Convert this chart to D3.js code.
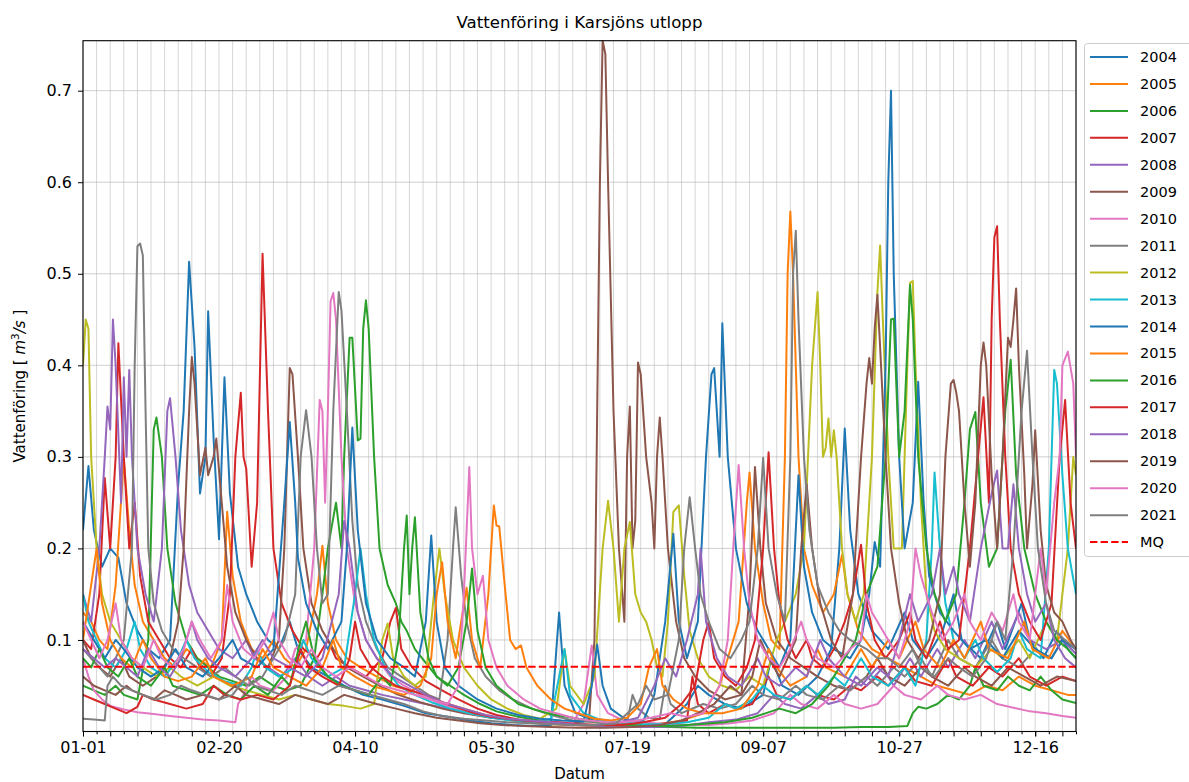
<!DOCTYPE html>
<html><head><meta charset="utf-8">
<script src="https://cdn.jsdelivr.net/npm/d3@7"></script>
<style>body{margin:0;background:#fff}svg{font-family:"DejaVu Sans",sans-serif}</style>
</head><body><svg id="c" width="1189" height="782"></svg>
<script>
const years = [2004,2005,2006,2007,2008,2009,2010,2011,2012,2013,2014,2015,2016,2017,2018,2019,2020,2021];
const mq = 0.0708;
const xTickDays = [0,50,100,150,200,250,300,350];
const xTickLabels = ["01-01","02-20","04-10","05-30","07-19","09-07","10-27","12-16"];
const yTicks = [0.1,0.2,0.3,0.4,0.5,0.6,0.7];

// [day of year, discharge m3/s]
const q2004 = [[0,0.22],[2,0.29],[4,0.22],[7,0.18],[10,0.2],[13,0.19],[16,0.14],[20,0.11],[24,0.09],[28,0.08],[32,0.1],[35,0.27],[37,0.35],[39,0.513],[41,0.42],[43,0.26],[45,0.3],[46,0.459],[48,0.32],[50,0.21],[52,0.387],[54,0.26],[57,0.18],[60,0.15],[64,0.12],[68,0.1],[72,0.09],[76,0.12],[79,0.09],[84,0.07],[90,0.06],[96,0.05],[103,0.04],[110,0.035],[118,0.028],[126,0.02],[134,0.016],[142,0.012],[150,0.009],[158,0.007],[165,0.006],[172,0.007],[174,0.09],[175,0.13],[177,0.05],[181,0.02],[188,0.012],[196,0.008],[205,0.006],[214,0.008],[222,0.03],[226,0.05],[230,0.04],[236,0.03],[242,0.025],[250,0.04],[253,0.08],[257,0.05],[263,0.04],[270,0.06],[275,0.09],[278,0.2],[280,0.331],[282,0.22],[285,0.15],[290,0.11],[296,0.09],[302,0.13],[305,0.1],[310,0.08],[316,0.11],[320,0.15],[323,0.1],[330,0.08],[336,0.12],[339,0.09],[345,0.14],[348,0.1],[353,0.08],[358,0.11],[362,0.09],[365,0.08]];
const q2005 = [[0,0.13],[3,0.12],[6,0.1],[9,0.09],[12,0.16],[15,0.298],[17,0.22],[19,0.16],[22,0.12],[26,0.1],[30,0.08],[34,0.07],[38,0.09],[42,0.08],[47,0.07],[51,0.1],[53,0.24],[55,0.17],[58,0.12],[62,0.09],[66,0.08],[70,0.1],[74,0.08],[78,0.07],[82,0.09],[86,0.15],[88,0.203],[90,0.14],[93,0.1],[97,0.08],[102,0.07],[108,0.06],[114,0.05],[120,0.045],[126,0.04],[132,0.032],[140,0.025],[148,0.018],[156,0.013],[164,0.01],[172,0.008],[180,0.007],[188,0.006],[196,0.005],[204,0.006],[212,0.008],[220,0.012],[228,0.02],[234,0.05],[238,0.09],[241,0.12],[244,0.25],[245,0.283],[247,0.2],[250,0.14],[253,0.1],[256,0.09],[258,0.3],[259,0.5],[260,0.568],[261,0.5],[263,0.3],[265,0.2],[268,0.16],[272,0.13],[276,0.15],[279,0.193],[281,0.15],[285,0.11],[290,0.09],[296,0.08],[302,0.07],[308,0.06],[314,0.05],[320,0.045],[326,0.04],[332,0.05],[338,0.045],[344,0.06],[350,0.05],[356,0.045],[362,0.04],[365,0.04]];
const q2006 = [[0,0.05],[4,0.045],[8,0.04],[12,0.05],[15,0.04],[20,0.035],[24,0.1],[26,0.33],[27,0.343],[29,0.3],[31,0.2],[34,0.14],[38,0.1],[42,0.08],[46,0.07],[50,0.06],[55,0.055],[60,0.05],[65,0.06],[70,0.05],[75,0.045],[80,0.05],[85,0.08],[88,0.15],[90,0.2],[93,0.25],[95,0.2],[96,0.3],[98,0.43],[99,0.43],[101,0.318],[102,0.32],[103,0.44],[104,0.471],[105,0.44],[107,0.3],[109,0.2],[112,0.16],[115,0.14],[117,0.12],[119,0.11],[122,0.09],[126,0.075],[130,0.06],[135,0.05],[140,0.04],[146,0.03],[152,0.022],[160,0.016],[168,0.012],[176,0.009],[186,0.007],[196,0.006],[206,0.005],[216,0.005],[226,0.004],[236,0.004],[246,0.004],[256,0.004],[266,0.004],[276,0.004],[286,0.005],[296,0.005],[303,0.006],[305,0.02],[307,0.027],[310,0.025],[314,0.03],[318,0.04],[322,0.035],[326,0.05],[328,0.07],[331,0.05],[336,0.045],[340,0.06],[344,0.05],[348,0.045],[352,0.06],[356,0.045],[360,0.035],[365,0.031]];
const q2007 = [[0,0.1],[3,0.09],[6,0.15],[8,0.277],[10,0.2],[12,0.3],[13,0.424],[15,0.3],[17,0.2],[19,0.25],[21,0.17],[24,0.12],[28,0.1],[32,0.08],[36,0.07],[40,0.09],[43,0.07],[47,0.06],[51,0.08],[54,0.15],[56,0.3],[58,0.37],[59,0.3],[60,0.287],[62,0.18],[64,0.25],[66,0.522],[68,0.35],[70,0.2],[73,0.14],[77,0.11],[81,0.09],[86,0.08],[90,0.1],[93,0.08],[98,0.07],[104,0.06],[110,0.08],[113,0.12],[115,0.135],[117,0.09],[121,0.07],[126,0.055],[132,0.045],[138,0.035],[145,0.025],[152,0.018],[160,0.013],[170,0.01],[180,0.008],[190,0.007],[200,0.006],[210,0.008],[218,0.01],[222,0.012],[224,0.06],[226,0.03],[230,0.02],[236,0.03],[240,0.025],[246,0.03],[252,0.06],[255,0.04],[260,0.035],[266,0.05],[270,0.04],[276,0.035],[282,0.05],[286,0.045],[292,0.06],[296,0.05],[302,0.07],[306,0.055],[312,0.05],[318,0.08],[321,0.06],[327,0.05],[333,0.07],[338,0.06],[344,0.08],[348,0.06],[354,0.05],[360,0.06],[365,0.055]];
const q2008 = [[0,0.15],[3,0.12],[6,0.2],[8,0.3],[9,0.355],[10,0.33],[11,0.45],[12,0.4],[14,0.25],[15,0.387],[16,0.3],[17,0.395],[18,0.3],[20,0.2],[23,0.15],[26,0.12],[29,0.2],[31,0.35],[32,0.364],[34,0.3],[36,0.22],[39,0.16],[42,0.13],[46,0.11],[50,0.09],[55,0.08],[60,0.1],[63,0.08],[68,0.07],[73,0.06],[78,0.08],[83,0.06],[88,0.05],[93,0.06],[98,0.05],[104,0.045],[110,0.04],[118,0.035],[126,0.03],[134,0.025],[142,0.02],[150,0.016],[160,0.012],[170,0.009],[180,0.007],[190,0.006],[200,0.005],[210,0.005],[220,0.006],[230,0.01],[240,0.013],[248,0.02],[254,0.04],[258,0.03],[264,0.025],[270,0.04],[274,0.03],[280,0.035],[284,0.06],[288,0.05],[294,0.07],[298,0.05],[304,0.08],[308,0.06],[314,0.09],[318,0.07],[324,0.1],[328,0.08],[334,0.12],[338,0.09],[344,0.13],[348,0.1],[354,0.09],[360,0.1],[365,0.085]];
const q2009 = [[0,0.1],[3,0.08],[6,0.07],[10,0.06],[14,0.08],[17,0.06],[22,0.05],[27,0.06],[32,0.08],[35,0.12],[37,0.2],[39,0.35],[40,0.409],[41,0.38],[43,0.28],[45,0.31],[46,0.28],[48,0.3],[49,0.32],[51,0.25],[53,0.18],[56,0.13],[60,0.1],[64,0.08],[68,0.07],[72,0.1],[74,0.2],[75,0.3],[76,0.397],[77,0.39],[79,0.3],[81,0.2],[84,0.14],[88,0.11],[92,0.09],[97,0.07],[103,0.06],[109,0.05],[116,0.04],[124,0.032],[132,0.025],[140,0.02],[150,0.015],[160,0.012],[170,0.01],[180,0.009],[186,0.012],[188,0.1],[190,0.6],[191,0.755],[192,0.74],[193,0.6],[195,0.35],[197,0.2],[199,0.12],[200,0.3],[201,0.355],[202,0.2],[203,0.23],[204,0.403],[205,0.39],[207,0.3],[209,0.25],[210,0.2],[211,0.3],[212,0.343],[213,0.3],[215,0.2],[218,0.12],[221,0.08],[225,0.06],[230,0.045],[236,0.035],[242,0.04],[245,0.15],[247,0.289],[249,0.2],[251,0.14],[255,0.1],[260,0.08],[265,0.07],[270,0.06],[276,0.05],[282,0.045],[288,0.06],[292,0.08],[296,0.06],[302,0.05],[308,0.07],[312,0.06],[318,0.05],[324,0.07],[328,0.06],[334,0.05],[340,0.07],[346,0.06],[352,0.05],[358,0.06],[365,0.055]];
const q2010 = [[0,0.08],[2,0.06],[4,0.045],[7,0.035],[10,0.028],[15,0.024],[20,0.021],[26,0.019],[32,0.017],[38,0.015],[44,0.013],[50,0.012],[56,0.01],[57,0.03],[59,0.04],[62,0.06],[65,0.05],[70,0.045],[75,0.06],[78,0.09],[82,0.1],[85,0.2],[87,0.362],[88,0.35],[89,0.25],[90,0.35],[91,0.47],[92,0.479],[93,0.45],[95,0.3],[97,0.2],[100,0.14],[104,0.1],[108,0.08],[113,0.06],[118,0.05],[124,0.04],[130,0.032],[136,0.026],[142,0.02],[150,0.016],[158,0.013],[166,0.011],[174,0.01],[180,0.009],[184,0.03],[187,0.094],[189,0.04],[193,0.02],[198,0.013],[206,0.01],[214,0.008],[222,0.007],[230,0.007],[238,0.009],[246,0.012],[254,0.02],[260,0.04],[264,0.03],[270,0.025],[276,0.04],[280,0.03],[286,0.025],[292,0.03],[298,0.05],[302,0.04],[308,0.035],[314,0.05],[318,0.04],[324,0.035],[330,0.04],[336,0.03],[342,0.026],[348,0.022],[354,0.02],[360,0.017],[365,0.015]];
const q2011 = [[0,0.09],[3,0.08],[6,0.07],[9,0.06],[12,0.08],[15,0.1],[18,0.2],[19,0.4],[20,0.53],[21,0.533],[22,0.52],[23,0.35],[24,0.2],[26,0.14],[29,0.11],[33,0.09],[37,0.08],[42,0.07],[47,0.06],[52,0.07],[56,0.06],[61,0.05],[66,0.06],[70,0.08],[74,0.1],[78,0.15],[80,0.3],[82,0.351],[84,0.3],[86,0.2],[88,0.14],[90,0.15],[92,0.35],[94,0.48],[95,0.46],[97,0.35],[99,0.23],[101,0.16],[104,0.12],[108,0.09],[112,0.07],[117,0.06],[122,0.05],[127,0.04],[131,0.035],[134,0.1],[136,0.2],[137,0.245],[139,0.17],[141,0.12],[144,0.08],[148,0.06],[153,0.045],[158,0.035],[165,0.025],[172,0.018],[180,0.012],[188,0.01],[196,0.008],[200,0.01],[202,0.04],[204,0.025],[208,0.015],[212,0.014],[214,0.05],[216,0.03],[220,0.02],[228,0.03],[234,0.025],[240,0.03],[246,0.05],[250,0.04],[256,0.035],[262,0.05],[266,0.04],[272,0.035],[278,0.05],[282,0.045],[288,0.06],[292,0.05],[298,0.07],[302,0.06],[308,0.08],[312,0.06],[318,0.1],[322,0.08],[328,0.07],[334,0.1],[338,0.08],[344,0.07],[350,0.09],[356,0.08],[360,0.1],[365,0.09]];
const q2012 = [[0,0.4],[1,0.45],[2,0.44],[3,0.3],[5,0.2],[7,0.15],[10,0.12],[14,0.1],[18,0.08],[22,0.07],[27,0.06],[32,0.07],[36,0.06],[42,0.05],[48,0.06],[54,0.05],[60,0.045],[66,0.04],[72,0.035],[78,0.04],[84,0.035],[90,0.03],[96,0.028],[102,0.025],[107,0.03],[110,0.1],[112,0.118],[114,0.08],[118,0.06],[122,0.05],[126,0.06],[129,0.15],[131,0.2],[133,0.15],[136,0.1],[140,0.07],[145,0.05],[150,0.035],[156,0.025],[162,0.018],[168,0.014],[174,0.025],[177,0.09],[179,0.05],[184,0.03],[188,0.06],[191,0.2],[193,0.252],[195,0.2],[197,0.12],[199,0.2],[201,0.229],[203,0.15],[205,0.13],[207,0.12],[209,0.1],[211,0.07],[213,0.06],[215,0.12],[217,0.24],[219,0.247],[221,0.17],[223,0.11],[226,0.08],[230,0.06],[235,0.05],[240,0.045],[245,0.06],[250,0.05],[255,0.1],[258,0.12],[262,0.15],[265,0.2],[268,0.4],[270,0.48],[271,0.4],[272,0.3],[273,0.31],[274,0.342],[275,0.3],[276,0.329],[277,0.3],[279,0.2],[281,0.15],[284,0.12],[287,0.15],[290,0.3],[292,0.48],[293,0.531],[294,0.45],[296,0.3],[298,0.2],[301,0.2],[303,0.4],[304,0.49],[305,0.492],[306,0.4],[308,0.25],[310,0.15],[313,0.11],[317,0.09],[322,0.08],[328,0.07],[334,0.09],[338,0.08],[344,0.1],[348,0.08],[354,0.12],[358,0.1],[362,0.2],[364,0.3],[365,0.28]];
const q2013 = [[0,0.15],[2,0.12],[5,0.1],[8,0.08],[12,0.07],[16,0.09],[19,0.12],[21,0.09],[25,0.07],[30,0.06],[35,0.08],[38,0.1],[41,0.08],[46,0.065],[52,0.055],[58,0.05],[62,0.07],[64,0.09],[67,0.07],[72,0.06],[78,0.07],[81,0.1],[84,0.08],[90,0.06],[96,0.07],[100,0.15],[102,0.2],[104,0.15],[107,0.1],[111,0.07],[116,0.05],[122,0.04],[128,0.032],[135,0.025],[142,0.02],[150,0.015],[158,0.012],[166,0.01],[172,0.014],[175,0.06],[177,0.09],[179,0.04],[184,0.02],[190,0.013],[198,0.01],[206,0.008],[214,0.008],[222,0.01],[230,0.015],[236,0.03],[240,0.025],[246,0.035],[250,0.05],[254,0.04],[260,0.035],[266,0.05],[270,0.04],[276,0.06],[280,0.05],[286,0.08],[290,0.06],[296,0.05],[302,0.07],[306,0.05],[310,0.1],[312,0.2],[313,0.283],[315,0.2],[317,0.14],[320,0.1],[324,0.08],[328,0.1],[331,0.08],[336,0.065],[341,0.08],[344,0.11],[347,0.09],[352,0.08],[355,0.2],[357,0.395],[358,0.38],[360,0.28],[362,0.2],[365,0.15]];
const q2014 = [[0,0.12],[4,0.1],[8,0.08],[12,0.1],[15,0.09],[20,0.07],[25,0.06],[30,0.07],[34,0.09],[38,0.07],[44,0.06],[50,0.08],[55,0.1],[58,0.08],[64,0.07],[70,0.09],[74,0.25],[76,0.338],[78,0.25],[79,0.19],[82,0.14],[86,0.11],[90,0.09],[95,0.12],[97,0.2],[99,0.332],[101,0.22],[104,0.14],[108,0.1],[113,0.08],[118,0.07],[122,0.06],[126,0.12],[128,0.214],[130,0.12],[133,0.07],[138,0.05],[145,0.035],[152,0.025],[160,0.018],[168,0.014],[176,0.012],[184,0.011],[187,0.05],[189,0.095],[191,0.05],[194,0.025],[200,0.012],[206,0.012],[210,0.04],[214,0.12],[217,0.216],[219,0.12],[222,0.08],[226,0.12],[229,0.3],[231,0.39],[232,0.397],[234,0.3],[235,0.446],[237,0.3],[240,0.2],[244,0.14],[248,0.11],[252,0.09],[256,0.07],[260,0.1],[263,0.28],[265,0.18],[268,0.13],[272,0.1],[276,0.09],[282,0.08],[286,0.1],[289,0.15],[291,0.207],[293,0.18],[295,0.4],[296,0.6],[297,0.70],[298,0.5],[300,0.3],[302,0.2],[305,0.25],[307,0.382],[309,0.25],[311,0.17],[315,0.13],[320,0.11],[326,0.09],[332,0.1],[338,0.08],[344,0.11],[350,0.09],[356,0.08],[360,0.1],[365,0.09]];
const q2015 = [[0,0.1],[2,0.14],[5,0.2],[7,0.14],[10,0.1],[14,0.08],[18,0.07],[22,0.1],[25,0.08],[30,0.06],[35,0.055],[40,0.06],[45,0.08],[48,0.06],[55,0.05],[62,0.06],[66,0.09],[70,0.07],[76,0.06],[82,0.05],[88,0.07],[92,0.1],[95,0.07],[100,0.06],[106,0.05],[112,0.045],[118,0.04],[124,0.05],[128,0.08],[130,0.15],[132,0.185],[134,0.12],[137,0.08],[139,0.12],[141,0.157],[143,0.1],[146,0.07],[149,0.15],[151,0.247],[152,0.225],[153,0.224],[155,0.16],[157,0.1],[159,0.09],[161,0.094],[163,0.07],[167,0.05],[172,0.035],[177,0.025],[182,0.02],[188,0.014],[194,0.012],[200,0.015],[205,0.03],[208,0.07],[211,0.09],[213,0.05],[217,0.035],[222,0.025],[228,0.02],[235,0.02],[242,0.025],[248,0.05],[252,0.09],[255,0.07],[260,0.05],[266,0.06],[270,0.09],[273,0.07],[280,0.06],[286,0.09],[290,0.07],[296,0.1],[300,0.08],[306,0.12],[309,0.09],[315,0.07],[320,0.1],[324,0.08],[330,0.12],[333,0.09],[340,0.08],[346,0.12],[349,0.09],[355,0.08],[360,0.11],[365,0.09]];
const q2016 = [[0,0.08],[3,0.07],[6,0.09],[9,0.07],[13,0.06],[17,0.08],[20,0.06],[25,0.05],[30,0.07],[33,0.05],[38,0.045],[43,0.04],[48,0.05],[53,0.04],[58,0.035],[63,0.05],[68,0.04],[73,0.06],[76,0.05],[80,0.1],[82,0.12],[85,0.08],[90,0.06],[95,0.05],[100,0.045],[105,0.04],[110,0.06],[113,0.05],[116,0.1],[118,0.2],[119,0.236],[120,0.15],[121,0.2],[122,0.234],[124,0.13],[127,0.08],[130,0.06],[134,0.05],[138,0.07],[141,0.12],[143,0.178],[145,0.11],[148,0.07],[152,0.05],[156,0.04],[160,0.03],[166,0.024],[172,0.019],[180,0.015],[188,0.011],[196,0.008],[206,0.006],[216,0.006],[226,0.008],[236,0.01],[246,0.015],[256,0.025],[262,0.02],[268,0.03],[274,0.05],[280,0.08],[284,0.1],[288,0.15],[292,0.18],[295,0.3],[297,0.45],[298,0.451],[300,0.3],[302,0.35],[304,0.488],[305,0.45],[307,0.3],[310,0.2],[313,0.15],[317,0.12],[321,0.15],[324,0.25],[326,0.33],[328,0.349],[330,0.25],[333,0.18],[336,0.2],[339,0.35],[341,0.406],[343,0.28],[346,0.2],[350,0.15],[354,0.12],[358,0.1],[362,0.09],[365,0.08]];
const q2017 = [[0,0.04],[4,0.035],[8,0.03],[12,0.025],[16,0.02],[20,0.027],[22,0.04],[26,0.035],[32,0.03],[38,0.025],[44,0.03],[48,0.05],[52,0.04],[58,0.035],[64,0.04],[70,0.035],[76,0.05],[80,0.09],[83,0.07],[88,0.06],[94,0.05],[98,0.08],[100,0.12],[102,0.09],[106,0.07],[110,0.06],[115,0.05],[120,0.045],[126,0.04],[132,0.032],[138,0.026],[144,0.02],[150,0.016],[158,0.013],[166,0.011],[174,0.01],[182,0.008],[190,0.007],[198,0.007],[206,0.01],[214,0.015],[220,0.03],[225,0.05],[228,0.1],[230,0.12],[232,0.08],[236,0.06],[240,0.05],[244,0.07],[247,0.1],[250,0.2],[252,0.305],[254,0.2],[256,0.14],[259,0.1],[262,0.08],[266,0.1],[268,0.08],[272,0.07],[276,0.09],[280,0.12],[283,0.15],[286,0.204],[288,0.14],[291,0.1],[295,0.08],[300,0.1],[304,0.13],[306,0.1],[310,0.08],[315,0.12],[318,0.09],[322,0.1],[326,0.2],[329,0.3],[331,0.365],[333,0.25],[334,0.45],[335,0.54],[336,0.552],[337,0.45],[339,0.3],[341,0.2],[344,0.15],[348,0.12],[352,0.1],[356,0.14],[359,0.3],[361,0.362],[363,0.25],[365,0.2]];
const q2018 = [[0,0.09],[4,0.08],[8,0.07],[12,0.08],[16,0.07],[20,0.06],[24,0.09],[28,0.07],[32,0.06],[36,0.08],[40,0.12],[42,0.1],[46,0.08],[50,0.07],[56,0.06],[62,0.08],[66,0.1],[70,0.08],[76,0.07],[82,0.06],[88,0.08],[94,0.15],[96,0.23],[98,0.2],[101,0.13],[104,0.1],[108,0.08],[114,0.06],[120,0.05],[126,0.04],[132,0.032],[140,0.025],[148,0.018],[156,0.014],[164,0.012],[172,0.01],[180,0.008],[188,0.007],[196,0.009],[204,0.015],[210,0.05],[214,0.08],[218,0.06],[222,0.1],[226,0.15],[227,0.2],[229,0.12],[233,0.08],[237,0.06],[242,0.05],[248,0.08],[251,0.06],[256,0.05],[262,0.07],[266,0.06],[271,0.1],[274,0.08],[280,0.06],[286,0.05],[292,0.07],[296,0.06],[300,0.1],[304,0.15],[307,0.12],[312,0.15],[315,0.2],[317,0.15],[320,0.18],[322,0.15],[326,0.12],[330,0.2],[334,0.26],[336,0.285],[338,0.2],[340,0.2],[342,0.27],[344,0.2],[347,0.15],[350,0.12],[354,0.14],[357,0.1],[361,0.08],[365,0.07]];
const q2019 = [[0,0.06],[4,0.05],[8,0.045],[12,0.04],[16,0.05],[18,0.045],[22,0.04],[26,0.035],[30,0.045],[34,0.04],[38,0.035],[44,0.04],[50,0.035],[56,0.05],[60,0.04],[66,0.035],[72,0.03],[78,0.04],[84,0.035],[90,0.03],[96,0.04],[102,0.035],[108,0.03],[115,0.025],[122,0.02],[130,0.015],[138,0.012],[146,0.009],[154,0.007],[162,0.006],[172,0.005],[182,0.004],[192,0.004],[202,0.005],[212,0.007],[220,0.012],[226,0.02],[232,0.03],[238,0.05],[242,0.04],[246,0.06],[249,0.1],[252,0.08],[256,0.06],[262,0.1],[264,0.2],[266,0.27],[268,0.2],[271,0.14],[275,0.1],[279,0.08],[283,0.15],[286,0.3],[288,0.38],[289,0.408],[290,0.38],[291,0.44],[292,0.477],[293,0.42],[295,0.3],[297,0.2],[300,0.14],[303,0.1],[307,0.08],[311,0.1],[315,0.15],[317,0.3],[319,0.38],[320,0.384],[321,0.37],[322,0.35],[324,0.25],[326,0.18],[328,0.25],[330,0.4],[331,0.425],[332,0.4],[334,0.28],[336,0.2],[338,0.3],[340,0.43],[341,0.42],[342,0.45],[343,0.484],[344,0.4],[346,0.28],[347,0.2],[349,0.27],[350,0.329],[352,0.22],[354,0.16],[357,0.13],[360,0.12],[363,0.1],[365,0.09]];
const q2020 = [[0,0.12],[3,0.1],[6,0.08],[9,0.1],[12,0.14],[14,0.1],[18,0.08],[22,0.07],[26,0.1],[29,0.08],[33,0.07],[37,0.09],[40,0.12],[43,0.1],[47,0.08],[51,0.1],[53,0.16],[55,0.12],[59,0.09],[63,0.08],[67,0.1],[70,0.13],[72,0.1],[76,0.08],[80,0.07],[84,0.09],[88,0.07],[93,0.06],[98,0.07],[104,0.06],[110,0.05],[116,0.045],[122,0.04],[128,0.035],[134,0.03],[138,0.05],[140,0.15],[142,0.289],[143,0.2],[145,0.15],[147,0.17],[149,0.1],[152,0.07],[156,0.05],[162,0.035],[168,0.025],[174,0.02],[180,0.015],[186,0.012],[192,0.01],[198,0.01],[204,0.012],[210,0.016],[216,0.02],[222,0.016],[228,0.02],[234,0.05],[237,0.1],[239,0.2],[241,0.291],[243,0.2],[245,0.14],[248,0.1],[252,0.08],[256,0.07],[260,0.09],[264,0.12],[266,0.1],[270,0.08],[276,0.07],[282,0.09],[286,0.1],[288,0.15],[290,0.13],[296,0.1],[300,0.08],[304,0.12],[306,0.2],[308,0.17],[312,0.13],[316,0.1],[320,0.12],[324,0.15],[326,0.12],[330,0.1],[334,0.13],[338,0.11],[342,0.15],[344,0.12],[348,0.1],[352,0.2],[354,0.15],[357,0.25],[359,0.3],[360,0.4],[362,0.415],[364,0.38],[365,0.3]];
const q2021 = [[0,0.014],[4,0.013],[8,0.012],[9,0.05],[11,0.06],[14,0.05],[18,0.045],[22,0.04],[27,0.035],[32,0.04],[36,0.05],[40,0.045],[45,0.04],[50,0.035],[55,0.04],[60,0.06],[63,0.05],[68,0.045],[73,0.04],[78,0.05],[83,0.045],[88,0.04],[94,0.05],[100,0.045],[106,0.04],[112,0.035],[118,0.03],[125,0.022],[132,0.017],[140,0.014],[148,0.012],[156,0.01],[164,0.009],[172,0.008],[180,0.007],[188,0.007],[196,0.009],[204,0.03],[207,0.05],[210,0.035],[215,0.04],[219,0.1],[221,0.2],[223,0.256],[225,0.2],[227,0.15],[230,0.12],[234,0.09],[238,0.08],[242,0.1],[245,0.12],[248,0.2],[250,0.299],[252,0.2],[255,0.15],[258,0.12],[260,0.3],[261,0.5],[262,0.547],[263,0.45],[265,0.3],[267,0.22],[270,0.16],[274,0.13],[278,0.11],[282,0.1],[288,0.09],[292,0.08],[296,0.08],[300,0.07],[305,0.09],[308,0.07],[313,0.06],[318,0.08],[322,0.07],[327,0.06],[332,0.08],[336,0.12],[339,0.1],[342,0.2],[345,0.35],[347,0.416],[349,0.3],[351,0.2],[354,0.14],[357,0.11],[361,0.1],[365,0.09]];

const seriesValues = [q2004,q2005,q2006,q2007,q2008,q2009,q2010,q2011,q2012,q2013,q2014,q2015,q2016,q2017,q2018,q2019,q2020,q2021];
const palette = ["#1f77b4","#ff7f0e","#2ca02c","#d62728","#9467bd","#8c564b","#e377c2","#7f7f7f","#bcbd22","#17becf"];

const svg = d3.select("#c");
const L = 83, R = 1076, T = 40.7, B = 731.5;
const x = d3.scaleLinear().domain([0,365]).range([L,R]);
const y = d3.scaleLinear().domain([0,0.7546]).range([B,T]);

// grid
const minorDays = d3.range(0,366,5);
svg.append("g").selectAll("line").data(minorDays).join("line")
  .attr("x1",d=>x(d)).attr("x2",d=>x(d)).attr("y1",T).attr("y2",B)
  .attr("stroke","#b0b0b0").attr("stroke-opacity",0.5).attr("stroke-width",1);
svg.append("g").selectAll("line").data(yTicks).join("line")
  .attr("x1",L).attr("x2",R).attr("y1",d=>y(d)).attr("y2",d=>y(d))
  .attr("stroke","#b0b0b0").attr("stroke-opacity",0.6).attr("stroke-width",1);

svg.append("defs").append("clipPath").attr("id","clip").append("rect")
  .attr("x",L).attr("y",T).attr("width",R-L).attr("height",B-T);

const line = d3.line().x(d=>x(d[0])).y(d=>y(d[1]));
const g = svg.append("g").attr("clip-path","url(#clip)");
seriesValues.forEach((s,i)=>{
  g.append("path").attr("d",line(s)).attr("fill","none")
    .attr("stroke",palette[i%10]).attr("stroke-width",2).attr("stroke-linejoin","round");
});
g.append("line").attr("x1",L).attr("x2",R).attr("y1",y(mq)).attr("y2",y(mq))
  .attr("stroke","#ff0000").attr("stroke-width",2).attr("stroke-dasharray","7.4,3.2");

// frame
svg.append("rect").attr("x",L).attr("y",T).attr("width",R-L).attr("height",B-T)
  .attr("fill","none").attr("stroke","#000").attr("stroke-width",1.1);

// axes
const xMinor = svg.append("g").attr("transform",`translate(0,${B})`)
  .call(d3.axisBottom(x).tickValues(d3.range(5,366,10)).tickSize(2.8).tickFormat(""));
const xMid = svg.append("g").attr("transform",`translate(0,${B})`)
  .call(d3.axisBottom(x).tickValues(d3.range(0,366,10)).tickSize(4.9).tickFormat(""));
const xMaj = svg.append("g").attr("transform",`translate(0,${B})`)
  .call(d3.axisBottom(x).tickValues(xTickDays).tickSize(4.9).tickPadding(5)
    .tickFormat((d,i)=>xTickLabels[i]));
const yAx = svg.append("g").attr("transform",`translate(${L},0)`)
  .call(d3.axisLeft(y).tickValues(yTicks).tickSize(5).tickPadding(6).tickFormat(d3.format(".1f")));
[xMinor,xMid,xMaj,yAx].forEach(a=>{a.select(".domain").remove();
  a.selectAll("line").attr("stroke","#000").attr("stroke-width",1);
  a.selectAll("text").attr("font-family","DejaVu Sans").attr("font-size",16).attr("fill","#000");});

svg.append("text").attr("x",(L+R)/2).attr("y",28).attr("text-anchor","middle")
  .attr("font-size",16.6).text("Vattenföring i Karsjöns utlopp");
svg.append("text").attr("x",(L+R)/2).attr("y",779).attr("text-anchor","middle")
  .attr("font-size",15).text("Datum");
const yl = svg.append("text").attr("transform",`translate(25,${(T+B)/2}) rotate(-90)`)
  .attr("text-anchor","middle").attr("font-size",15);
yl.append("tspan").text("Vattenföring [ ");
yl.append("tspan").attr("font-style","italic").text("m");
yl.append("tspan").attr("font-size",10.5).attr("dy",-6).text("3");
yl.append("tspan").attr("dy",6).attr("font-style","italic").text("/s");
yl.append("tspan").text(" ]");

// legend
const lg = svg.append("g");
lg.append("rect").attr("x",1084.5).attr("y",43.5).attr("width",110).attr("height",513).attr("rx",3)
  .attr("fill","#fff").attr("fill-opacity",0.8).attr("stroke","#cccccc");
const labels = years.map(String).concat(["MQ"]);
labels.forEach((t,i)=>{
  const yy = 57 + i*26.95;
  const ln = lg.append("line").attr("x1",1090).attr("x2",1128).attr("y1",yy).attr("y2",yy)
    .attr("stroke-width",2);
  if(i<years.length) ln.attr("stroke",palette[i%10]);
  else ln.attr("stroke","#ff0000").attr("stroke-dasharray","7.4,3.2");
  lg.append("text").attr("x",1140).attr("y",yy+5).attr("font-size",14.5).text(t);
});
</script></body></html>
